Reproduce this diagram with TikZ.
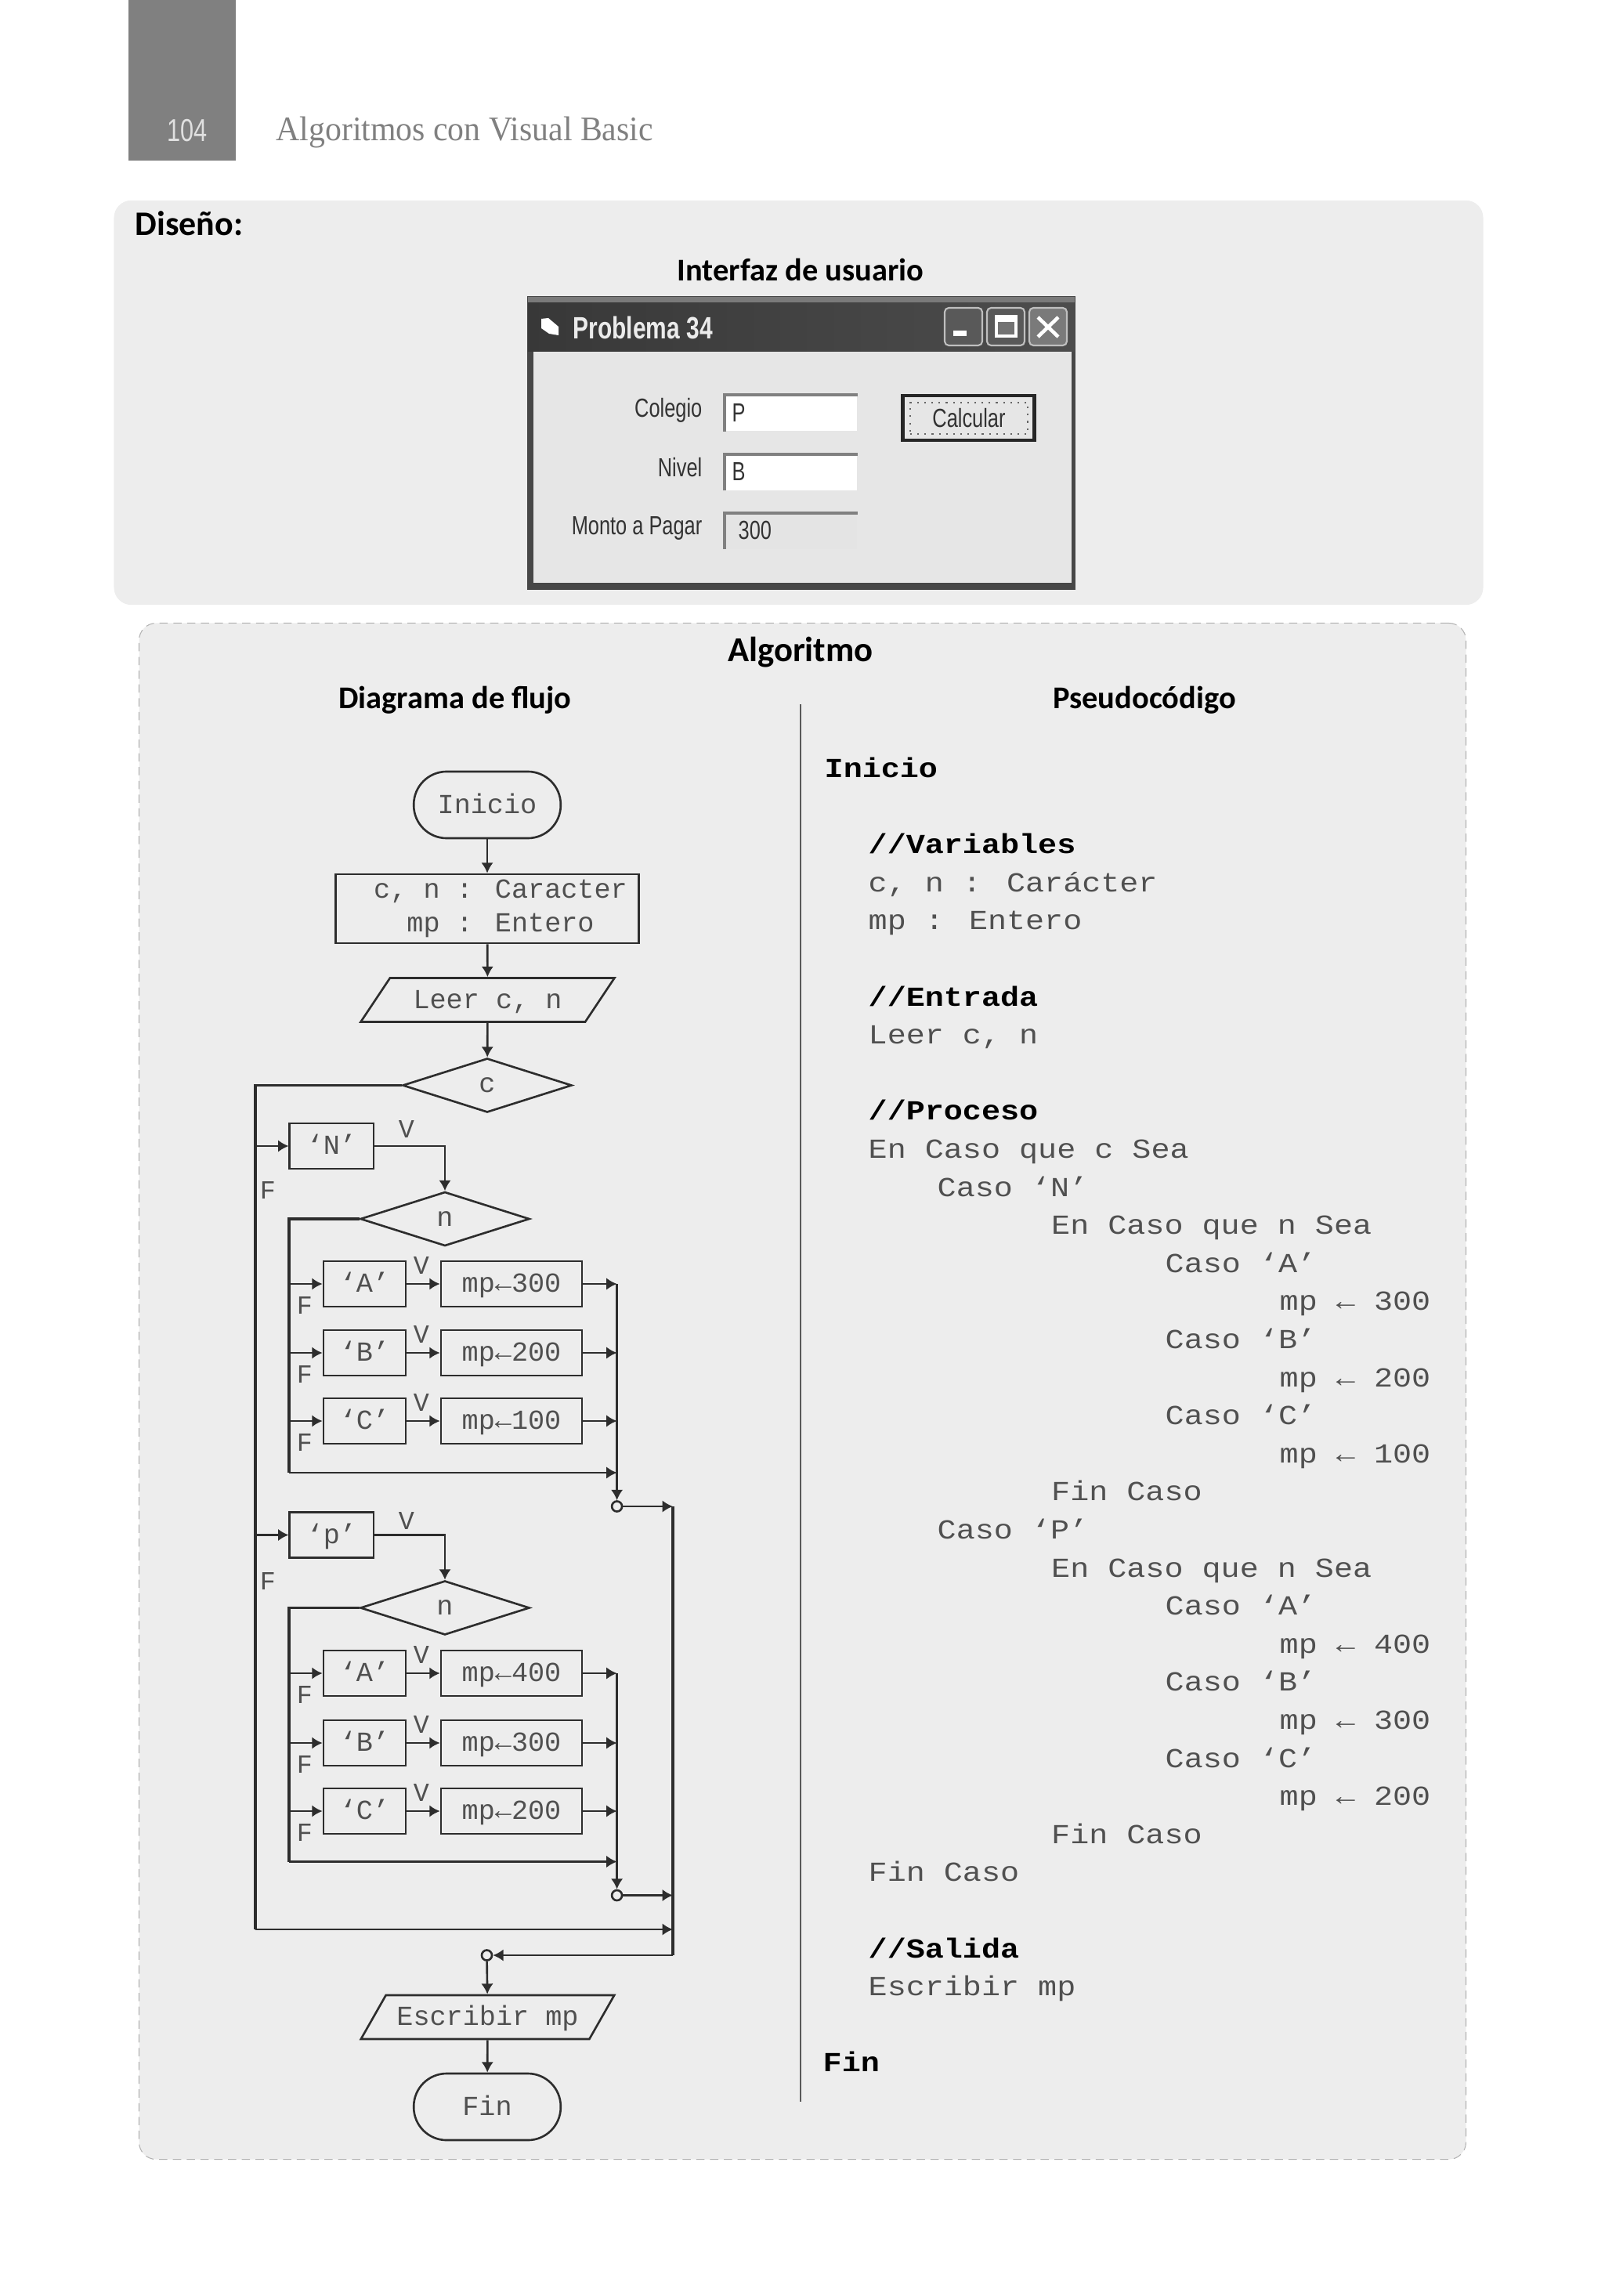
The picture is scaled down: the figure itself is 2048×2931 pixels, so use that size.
\documentclass[tikz,border=0pt]{standalone}
\usepackage{fontspec}
\usetikzlibrary{arrows.meta,calc,shapes.geometric}
\setmainfont{Liberation Sans}
\newfontfamily\flowfont{Liberation Mono}
\newfontfamily\codefont[FakeStretch=1.14]{Liberation Mono}
\newfontfamily\headfont{Carlito}
\newfontfamily\serffont[FakeStretch=0.95]{Liberation Serif}
\newfontfamily\winfont[FakeStretch=0.76]{Liberation Sans}
\definecolor{panel}{RGB}{237,237,237}
\definecolor{ink}{RGB}{45,45,45}
\definecolor{codeink}{RGB}{80,80,80}
\definecolor{winface}{RGB}{230,230,230}
\newcommand{\Head}[1]{\headfont\bfseries #1}
\newcommand{\Kw}[1]{\textcolor{black}{\bfseries #1}}
\tikzset{
  wire/.style={draw=ink, line width=0.75pt},
  bus/.style={draw=ink, line width=1.05pt},
  flow/.style={wire, -{Latex[length=3.8pt,width=4.4pt]}},
  busflow/.style={bus, -{Latex[length=3.8pt,width=4.4pt]}},
  flowtext/.style={font=\flowfont\fontsize{10}{12.2}\selectfont, text=codeink, inner sep=0pt},
  evenbox/.style={text height=8pt, text depth=2pt},
  terminal/.style={wire, flowtext, evenbox, fill=panel, rounded corners=0.42cm, minimum width=1.875cm, minimum height=0.85cm},
  dataio/.style={wire, flowtext, evenbox, trapezium, trapezium left angle=51, trapezium right angle=129,
    trapezium stretches=true, minimum width=3.25cm, minimum height=0.56cm},
  cond/.style={wire, flowtext, diamond, minimum width=2.16cm, minimum height=0.69cm},
  casebox/.style={wire, flowtext, evenbox, rectangle, minimum width=1.05cm, minimum height=0.58cm},
  setbox/.style={wire, flowtext, evenbox, rectangle, minimum width=1.80cm, minimum height=0.58cm},
  joindot/.style={wire, circle, fill=panel, inner sep=0pt, minimum size=0.13cm},
  tag/.style={flowtext, font=\flowfont\fontsize{9.5}{11}\selectfont},
  codeline/.style={font=\codefont\fontsize{10}{12}\selectfont, text=codeink, anchor=base west, inner sep=0pt},
  title/.style={font=\Head{}\fontsize{11.5}{14}\selectfont, text=black, inner sep=0pt},
  winlabel/.style={font=\winfont\fontsize{9.5}{11}\selectfont, text=black!80, anchor=east, inner sep=0pt},
  wintext/.style={font=\winfont\fontsize{9.5}{11}\selectfont, text=black!80, inner sep=0pt},
  entry/.style={rectangle, fill=white, minimum width=1.68cm, minimum height=0.45cm, inner sep=0pt},
  capbtn/.style={rectangle, draw=black!25, fill=black!65, line width=0.6pt, rounded corners=1.5pt,
    minimum width=0.48cm, minimum height=0.48cm, inner sep=0pt}
}
\begin{document}
\begin{tikzpicture}[x=0.01cm,y=-0.01cm]
    \useasboundingbox (0,0) rectangle (2048,2931);
    \node[fill=black!50, minimum width=1.37cm, minimum height=2.05cm, inner sep=0pt] (tab) at (232.5,102.5) {};
    \node[font=\winfont\fontsize{11.5}{13}\selectfont, text=black!12, inner sep=0pt] (pagenum) at (239,167) {104};
    \node[font=\serffont\fontsize{12.5}{14}\selectfont, text=black!50, anchor=west, inner sep=0pt] (running) at (352,169) {Algoritmos con Visual Basic};

    \node[fill=panel, rounded corners=0.22cm, minimum width=17.47cm, minimum height=5.16cm, inner sep=0pt] (designbox) at (1019.5,514) {};
    \node[title, font=\Head{}\fontsize{12.5}{14}\selectfont, anchor=west] (design) at (172,285) {Diseño:};
    \node[title] (uitit) at (1022,344) {Interfaz de usuario};

    \node[fill=black!72, minimum width=7.0cm, minimum height=3.75cm, inner sep=0pt] (win) at (1023,565.5) {};
    \node[left color=black!78, right color=black!70, minimum width=6.98cm, minimum height=0.68cm, inner sep=0pt] (titlebar) at (1023,414) {};
    \node[fill=black!52, minimum width=6.98cm, minimum height=0.07cm, inner sep=0pt] (titletop) at (1023,383) {};
    \node[fill=winface, minimum width=6.87cm, minimum height=2.95cm, inner sep=0pt] (client) at (1024.5,596.5) {};
    \fill[white] (691,407) -- (700,406) -- (713,417) -- (713,428) -- (701,426) -- (691,419) -- cycle;
    \node[font=\winfont\bfseries\fontsize{11.2}{12}\selectfont, text=black!8, anchor=west, inner sep=0pt] (wintitle) at (731,418) {Problema 34};
    \node[capbtn] (btnmin) at (1230,417) {};
    \node[capbtn] (btnmax) at (1284,417) {};
    \node[capbtn, fill=black!52] (btnclose) at (1338,417) {};
    \fill[white] (1217,422) rectangle (1234,429);
    \draw[white, line width=1pt, fill=black!55] (1272,404) rectangle (1297,429);
    \fill[white] (1272,404) rectangle (1297,411);
    \draw[white, line width=1.3pt] (1325,405) -- (1351,430) (1351,405) -- (1325,430);

    \node[winlabel] (lblcole) at (897,524) {Colegio};
    \node[winlabel] (lblnivel) at (897,597) {Nivel};
    \node[winlabel] (lblmonto) at (897,674) {Monto a Pagar};
    \node[entry] (txtcole) at (1010,527.5) {};
    \node[entry] (txtnivel) at (1010,603) {};
    \node[entry, fill=winface!106!white] (txtmonto) at (1010,678) {};
    \foreach \ent in {txtcole,txtnivel,txtmonto}
      \draw[black!50, line width=1.2pt] (\ent.south west) -- (\ent.north west) -- (\ent.north east);
    \node[wintext, anchor=west] (valcole) at (934,527) {P};
    \node[wintext, anchor=west] (valnivel) at (934,602) {B};
    \node[wintext, anchor=west] (valmonto) at (942,677) {300};
    \node[draw=black!85, line width=1.3pt, fill=winface, minimum width=1.68cm, minimum height=0.57cm, inner sep=0pt] (calc) at (1236.5,533.5) {};
    \node[wintext, draw=black!60, dotted, line width=0.6pt, minimum width=1.5cm, minimum height=0.40cm] (calctxt) at (1237,534) {Calcular};

    \node[draw=black!30, densely dashed, line width=0.3pt, fill=panel, rounded corners=0.22cm, minimum width=16.93cm, minimum height=19.6cm, inner sep=0pt] (algobox) at (1024.5,1776) {};
    \node[title, font=\Head{}\fontsize{12.7}{16}\selectfont] (algotit) at (1022,833) {Algoritmo};
    \node[title] (flowtit) at (581,894) {Diagrama de flujo};
    \node[title] (codetit) at (1461,894) {Pseudocódigo};
    \coordinate (divtop) at (1022,899);
    \coordinate (divbot) at (1022,2683);
    \draw[black!65, line width=0.6pt] (divtop) -- (divbot);

    \node[terminal] (start) at (622,1027.5) {Inicio};
    \node[wire, flowtext, rectangle, minimum width=3.87cm, minimum height=0.88cm, align=left] (decl) at (622,1160)
      {\hspace*{0.34cm}c, n : Caracter\\ \hspace*{0.34cm}\phantom{c,}mp : Entero};
    \node[dataio] (readin) at (622.5,1276.5) {Leer c, n};
    \node[cond] (condc) at (622,1385.5) {c};
    \node[casebox, minimum width=1.07cm] (caseN) at (423.3,1463) {‘N’};
    \node[cond] (condN) at (568,1556) {n};
    \node[casebox, minimum width=1.07cm] (caseP) at (423.3,1959.5) {‘p’};
    \node[cond] (condP) at (568,2052.5) {n};
    \node[tag] (vN) at (519,1441) {V};
    \node[tag] (fN) at (342,1519) {F};
    \node[tag] (vP) at (519,1941) {V};
    \node[tag] (fP) at (342,2018) {F};
    \node[dataio] (writeout) at (622.5,2575) {Escribir mp};
    \node[terminal] (stop) at (622,2689.5) {Fin};

    \coordinate (outerT) at (326,1385.5);
    \coordinate (outerB) at (326,2463);
    \coordinate (inbusN) at (369,1556);
    \coordinate (inbusNb) at (369,1880);
    \coordinate (inbusP) at (369,2052.5);
    \coordinate (inbusPb) at (369,2376.5);
    \coordinate (outbusN) at (787.6,1639);
    \coordinate (outbusP) at (787.6,2136);
    \node[joindot] (joinN) at (787.6,1923) {};
    \node[joindot] (joinP) at (787.6,2419.5) {};
    \node[joindot] (joinall) at (621.5,2496) {};
    \coordinate (rbusT) at (859,1923);
    \coordinate (rbusB) at (859,2496);

    \foreach \grp/\kase/\val/\yy in {N/A/300/1639,N/B/200/1727,N/C/100/1814,P/A/400/2136,P/B/300/2225,P/C/200/2312} {
      \node[casebox] (case\grp\kase) at (465.5,\yy) {‘\kase’};
      \node[setbox] (set\grp\kase) at (653,\yy) {mp←\val};
      \node[tag] (v\grp\kase) at (538,\yy-24) {V};
      \node[tag] (f\grp\kase) at (389,\yy+27) {F};
      \draw[flow] (inbus\grp |- case\grp\kase) -- (case\grp\kase);
      \draw[flow] (case\grp\kase) -- (set\grp\kase);
      \draw[flow] (set\grp\kase) -- (outbus\grp |- set\grp\kase);
    }

    \draw[flow] (start) -- (decl);
    \draw[flow] (decl) -- (readin);
    \draw[flow] (readin) -- (condc);
    \draw[bus] (condc.west) -- (outerT) -- (outerB);
    \draw[flow] (outerT |- caseN) -- (caseN);
    \draw[flow] (outerT |- caseP) -- (caseP);
    \draw[flow] (caseN) -| (condN.north);
    \draw[flow] (caseP) -| (condP.north);
    \draw[bus] (condN.west) -- (inbusN) -- (inbusNb);
    \draw[bus] (condP.west) -- (inbusP) -- (inbusPb);
    \draw[flow] (inbusNb) -- (joinN |- inbusNb);
    \draw[flow] (inbusPb) -- (joinP |- inbusPb);
    \draw[busflow] (outbusN) -- (joinN);
    \draw[busflow] (outbusP) -- (joinP);
    \draw[flow] (joinN) -- (rbusT);
    \draw[flow] (joinP) -- (rbusT |- joinP);
    \draw[flow] (outerB) -- (rbusT |- outerB);
    \draw[bus] (rbusT) -- (rbusB);
    \draw[flow] (rbusB) -- (joinall);
    \draw[flow] (joinall) -- (writeout);
    \draw[flow] (writeout) -- (stop);

    \foreach \k/\xx/\txt in {
      0/1054/{\Kw{Inicio}}, 2/1110/{\Kw{//Variables}}, 3/1110/{c, n : Carácter}, 4/1110/{mp : Entero},
      6/1110/{\Kw{//Entrada}}, 7/1110/{Leer c, n}, 9/1110/{\Kw{//Proceso}}, 10/1110/{En Caso que c Sea},
      11/1198/{Caso ‘N’}, 12/1343.5/{En Caso que n Sea}, 13/1489/{Caso ‘A’}, 14/1635/{mp ← 300},
      15/1489/{Caso ‘B’}, 16/1635/{mp ← 200}, 17/1489/{Caso ‘C’}, 18/1635/{mp ← 100}, 19/1343.5/{Fin Caso},
      20/1198/{Caso ‘P’}, 21/1343.5/{En Caso que n Sea}, 22/1489/{Caso ‘A’}, 23/1635/{mp ← 400},
      24/1489/{Caso ‘B’}, 25/1635/{mp ← 300}, 26/1489/{Caso ‘C’}, 27/1635/{mp ← 200}, 28/1343.5/{Fin Caso},
      29/1110/{Fin Caso}, 31/1110/{\Kw{//Salida}}, 32/1110/{Escribir mp}, 34/1052/{\Kw{Fin}}}
      \node[codeline] (code\k) at (\xx-2,992.5+48.6*\k) {\txt};
  \end{tikzpicture}
\end{document}
